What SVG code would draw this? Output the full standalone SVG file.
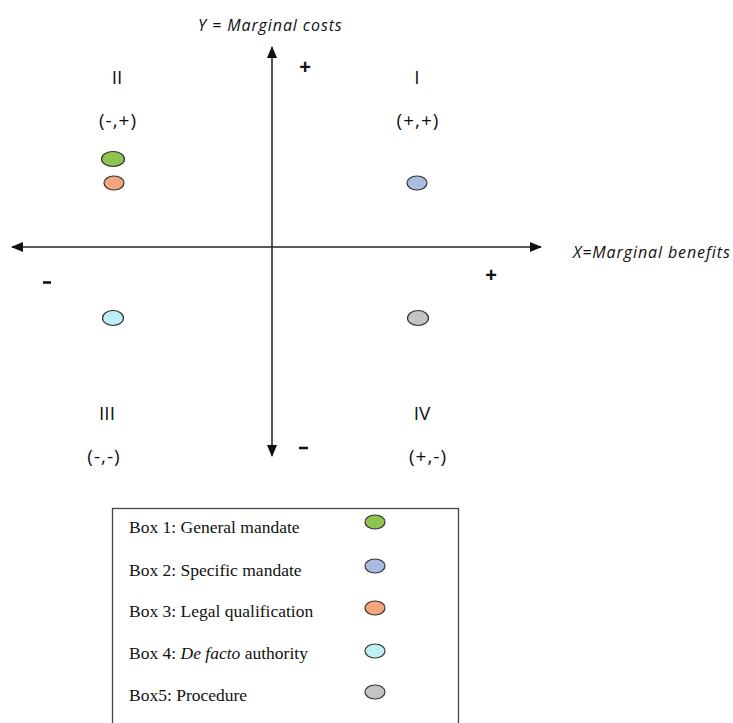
<svg xmlns="http://www.w3.org/2000/svg" width="733" height="723" viewBox="0 0 733 723">
  <style>
    .axis { stroke: #222; stroke-width: 1.5; fill: none; }
    .lbl { font-family: "Open Sans", "Liberation Sans", sans-serif; font-size: 19px; fill: #111; text-anchor: middle; }
    .pair { letter-spacing: 1px; }
    .ax { font-family: "Open Sans", "Liberation Sans", sans-serif; font-size: 16px; font-style: italic; fill: #111; letter-spacing: 0.9px; }
    .sign { font-family: "Liberation Sans", sans-serif; font-size: 20px; font-weight: bold; fill: #111; text-anchor: middle; }
    .dash { stroke: #111; stroke-width: 2.6; }
    .dot { stroke: #333; stroke-width: 1.2; }
    .leg { font-family: "Liberation Serif", serif; font-size: 17.5px; fill: #111; }
    .box { fill: #fff; stroke: #444; stroke-width: 1.3; }
  </style>
  <defs>
    <marker id="head" viewBox="0 0 12 10" refX="11" refY="5" markerWidth="12" markerHeight="10" markerUnits="userSpaceOnUse" orient="auto">
      <path d="M0,0 L12,5 L0,10 Z" fill="#111"/>
    </marker>
  </defs>
  <rect width="733" height="723" fill="#fff"/>

  <!-- axes -->
  <g id="connectors">
    <line class="axis" x1="272" y1="248" x2="272" y2="47" marker-end="url(#head)"/>
    <line class="axis" x1="272" y1="248" x2="272" y2="456" marker-end="url(#head)"/>
    <line class="axis" x1="272" y1="247" x2="12" y2="247" marker-end="url(#head)"/>
    <line class="axis" x1="272" y1="247" x2="541" y2="247" marker-end="url(#head)"/>
  </g>

  <!-- axis titles and signs -->
  <g id="axis-labels">
    <text class="ax" x="198" y="31">Y = Marginal costs</text>
    <text class="ax" x="573" y="258">X=Marginal benefits</text>
    <text class="sign" x="305" y="74">+</text>
    <text class="sign" x="491" y="282">+</text>
    <line class="dash" x1="43" y1="282.5" x2="51" y2="282.5"/>
    <line class="dash" x1="299" y1="448" x2="308" y2="448"/>
  </g>

  <!-- quadrants -->
  <g id="quadrant-1">
    <text class="lbl" x="417" y="84">I</text>
    <text class="lbl pair" x="418" y="127">(+,+)</text>
  </g>
  <g id="quadrant-2">
    <text class="lbl" x="117" y="84">II</text>
    <text class="lbl pair" x="118" y="127">(-,+)</text>
  </g>
  <g id="quadrant-3">
    <text class="lbl" x="107" y="420">III</text>
    <text class="lbl pair" x="104" y="463">(-,-)</text>
  </g>
  <g id="quadrant-4">
    <text class="lbl" x="422" y="420">IV</text>
    <text class="lbl pair" x="428" y="463">(+,-)</text>
  </g>

  <!-- plotted boxes -->
  <g id="box1-point"><ellipse class="dot" cx="113" cy="159" rx="11.5" ry="7.5" fill="#8FC451"/></g>
  <g id="box3-point"><ellipse class="dot" cx="114" cy="183" rx="10" ry="7" fill="#F4A57F"/></g>
  <g id="box2-point"><ellipse class="dot" cx="417" cy="183" rx="10" ry="7" fill="#A9BBE0"/></g>
  <g id="box4-point"><ellipse class="dot" cx="113" cy="318" rx="10.5" ry="7.5" fill="#BDF0F5"/></g>
  <g id="box5-point"><ellipse class="dot" cx="418" cy="318" rx="10.5" ry="7.5" fill="#C4C4C4"/></g>

  <!-- legend -->
  <g id="legend">
    <rect class="box" x="112.5" y="508.5" width="346" height="230"/>
    <text class="leg" x="129" y="533">Box 1: General mandate</text>
    <text class="leg" x="129" y="576">Box 2: Specific mandate</text>
    <text class="leg" x="129" y="617">Box 3: Legal qualification</text>
    <text class="leg" x="129" y="659">Box 4: <tspan font-style="italic">De facto</tspan> authority</text>
    <text class="leg" x="129" y="701">Box5: Procedure</text>
    <ellipse class="dot" cx="375" cy="522" rx="10" ry="7" fill="#8FC451"/>
    <ellipse class="dot" cx="375" cy="566" rx="10" ry="7" fill="#A9BBE0"/>
    <ellipse class="dot" cx="375" cy="608" rx="10" ry="7" fill="#F4A57F"/>
    <ellipse class="dot" cx="375" cy="651" rx="10" ry="7" fill="#BDF0F5"/>
    <ellipse class="dot" cx="375" cy="692" rx="10" ry="7" fill="#C4C4C4"/>
  </g>
</svg>
